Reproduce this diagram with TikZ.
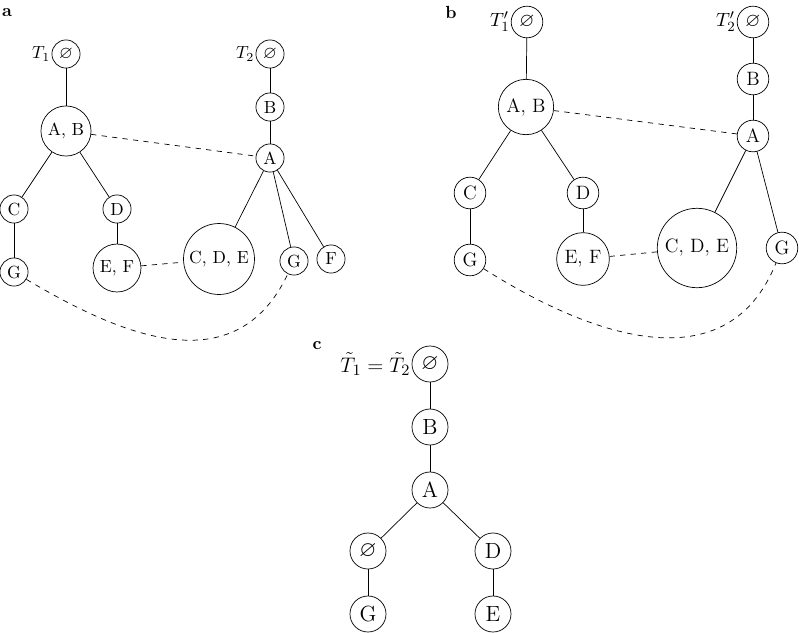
\documentclass[tikz,border=0pt]{standalone}
\usepackage{amsmath,amssymb}
\usepackage{tikz}

\begin{document}
\begin{tikzpicture}[x=0.02cm,y=-0.02cm,
  vtx/.style={circle,draw,inner sep=0pt,minimum size=16pt},
  vtxb/.style={vtx,minimum size=18pt,font=\fontsize{11}{13}\selectfont},
  vtxc/.style={vtx,minimum size=20.5pt,font=\fontsize{12.5}{15}\selectfont},
  panel/.style={font=\bfseries}]

\useasboundingbox (0,0) rectangle (799,633);

% ---------------- PANEL A ----------------

\node[panel] (la) at (7,13) {a};

\node[vtx,label={[inner sep=0.5pt]left:$T_1$}] (A0) at (66,54) {$\varnothing$};
\node[vtx,minimum size=28.5pt] (A1) at (66,131) {A, B};
\node[vtx] (A2) at (14,209) {C};
\node[vtx] (A3) at (117,209) {D};
\node[vtx] (A4) at (14,272) {G};
\node[vtx,minimum size=27.3pt] (A5) at (117,268) {E, F};

\draw (A0)--(A1);
\draw (A1)--(A2);
\draw (A1)--(A3);
\draw (A2)--(A4);
\draw (A3)--(A5);

\node[vtx,label={[inner sep=0.5pt]left:$T_2$}] (B0) at (270,54) {$\varnothing$};
\node[vtx] (B1) at (270,107) {B};
\node[vtx] (B2) at (270,158) {A};
\node[vtx,minimum size=40.4pt] (B3) at (219,259) {C, D, E};
\node[vtx] (B4) at (294,261) {G};
\node[vtx] (B5) at (331,259) {F};

\draw (B0)--(B1);
\draw (B1)--(B2);
\draw (B2)--(B3);
\draw (B2)--(B4);
\draw (B2)--(B5);

\draw[dashed] (A1)--(B2);
\draw[dashed] (A5)--(B3);
\draw[dashed] (A4) .. controls (120,335) and (235,385) .. (B4);

% ---------------- PANEL B ----------------

\node[panel] (lb) at (451,12) {b};

\node[vtxb,label={[inner sep=0.5pt,font=\fontsize{11}{13}\selectfont]left:$T_1'$}] (C0) at (527,22) {$\varnothing$};
\node[vtxb,minimum size=31.5pt] (C1) at (526,107) {A, B};
\node[vtxb] (C2) at (470,193) {C};
\node[vtxb] (C3) at (583,193) {D};
\node[vtxb] (C4) at (470,260) {G};
\node[vtxb,minimum size=30pt] (C5) at (583,259) {E, F};

\draw (C0)--(C1);
\draw (C1)--(C2);
\draw (C1)--(C3);
\draw (C2)--(C4);
\draw (C3)--(C5);

\node[vtxb,label={[inner sep=0.5pt,font=\fontsize{11}{13}\selectfont]left:$T_2'$}] (D0) at (753,22) {$\varnothing$};
\node[vtxb] (D1) at (753,79) {B};
\node[vtxb] (D2) at (753,136) {A};
\node[vtxb,minimum size=45.2pt] (D3) at (697,248) {C, D, E};
\node[vtxb] (D4) at (782,248) {G};

\draw (D0)--(D1);
\draw (D1)--(D2);
\draw (D2)--(D3);
\draw (D2)--(D4);

\draw[dashed] (C1)--(D2);
\draw[dashed] (C5)--(D3);
\draw[dashed] (C4) .. controls (580,330) and (725,390) .. (D4);

% ---------------- PANEL C ----------------

\node[panel] (lc) at (317,346) {c};

\node[vtxc,label={[inner sep=0.5pt,font=\fontsize{13}{15}\selectfont]left:$\tilde{T}_1=\tilde{T}_2$}] (E0) at (430,364) {$\varnothing$};
\node[vtxc] (E1) at (430,427) {B};
\node[vtxc] (E2) at (430,490) {A};
\node[vtxc] (E3) at (368,551) {$\varnothing$};
\node[vtxc] (E4) at (493,551) {D};
\node[vtxc] (E5) at (368,614) {G};
\node[vtxc] (E6) at (493,614) {E};

\draw (E0)--(E1);
\draw (E1)--(E2);
\draw (E2)--(E3);
\draw (E2)--(E4);
\draw (E3)--(E5);
\draw (E4)--(E6);

\end{tikzpicture}
\end{document}
